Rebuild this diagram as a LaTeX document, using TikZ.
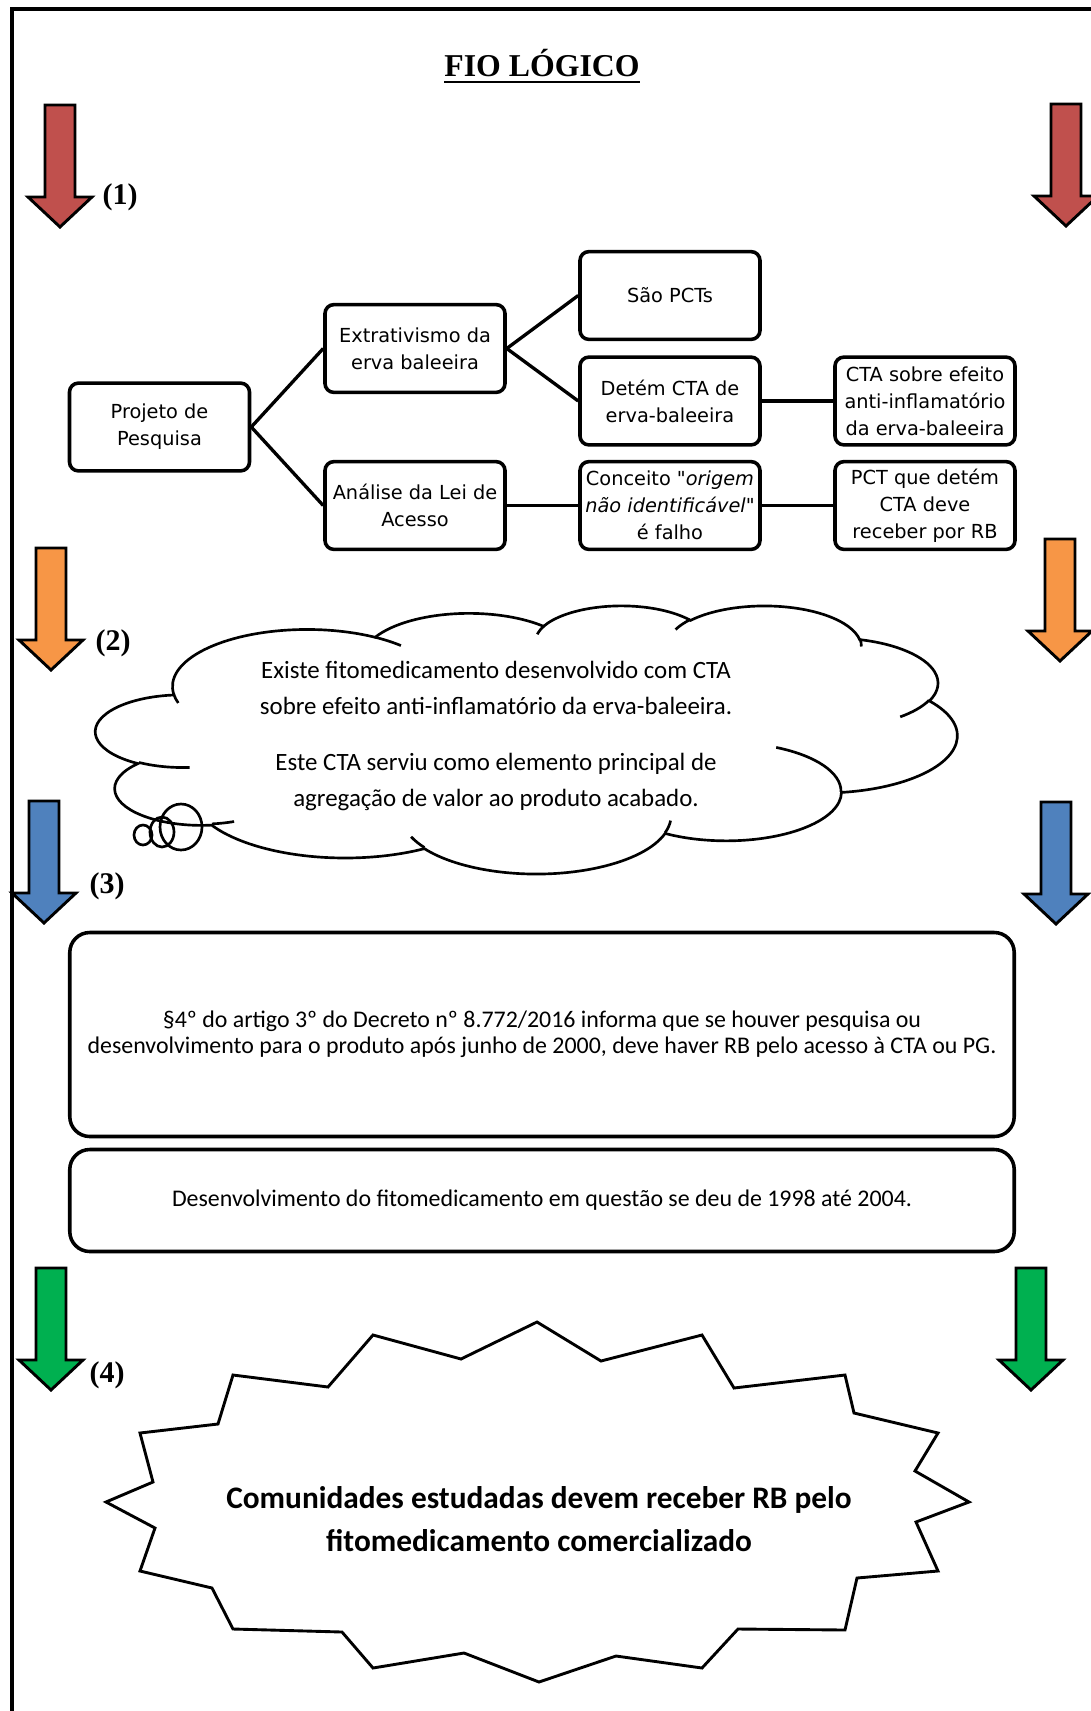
\documentclass[tikz,border=0pt]{standalone}
\usepackage{fontspec}
\setmainfont{Liberation Serif}
\newfontfamily\boxfont{DejaVu Sans}
\newfontfamily\calfont{Carlito}

\definecolor{arrowred}{HTML}{C0504D}
\definecolor{arroworange}{HTML}{F79646}
\definecolor{arrowblue}{HTML}{4F81BD}
\definecolor{arrowgreen}{HTML}{00B050}

\tikzset{
	box/.style={draw, line width=1.6pt, rounded corners=4pt, minimum width=81pt, minimum height=39.5pt, inner sep=1pt, align=center, font=\boxfont\fontsize{8.7}{12.2}\selectfont},
	bigbox/.style={draw, line width=1.6pt, rounded corners=9pt, minimum width=425pt, inner sep=2pt, align=center, font=\calfont\fontsize{10.75}{11.7}\selectfont},
	link/.style={line width=1.5pt},
	arrowline/.style={draw=black, line width=1.3pt, line join=miter},
	cloudline/.style={line width=1.2pt},
	numtag/.style={font=\bfseries\fontsize{13.5}{16}\selectfont, inner sep=0pt}
}

% block arrow pointing down: centre x, top y, colour
\newcommand{\downblock}[3]{%
	\draw[arrowline, fill=#3] (#1-15,#2) -- (#1+15,#2) -- (#1+15,#2+92) -- (#1+32,#2+92)
		-- (#1,#2+122) -- (#1-32,#2+92) -- (#1-15,#2+92) -- cycle;}

\begin{document}
\begin{tikzpicture}[x=0.45pt, y=-0.45pt]
			\useasboundingbox (0,0) rectangle (1091,1711);
			% Page frame
			\draw[line width=1.5pt] (12,1711) -- (12,9) -- (1091,9);
			
			% Title
			\node[inner sep=0pt, anchor=base, font=\bfseries\fontsize{14.3}{17}\selectfont] (title) at (542,76) {FIO LÓGICO};
			\draw[line width=0.9pt] ([yshift=-2.7pt]title.base west) -- ([yshift=-2.7pt]title.base east);
			
			% Arrows on both sides, one pair per step
			\downblock{60}{105}{arrowred}
			\downblock{1066}{104}{arrowred}
			\downblock{51}{548}{arroworange}
			\downblock{1060}{539}{arroworange}
			\downblock{44}{801}{arrowblue}
			\downblock{1056}{802}{arrowblue}
			\downblock{51}{1268}{arrowgreen}
			\downblock{1031}{1268}{arrowgreen}
			
			% Step numbers
			\node[numtag] (t1) at (120,197) {(1)};
			\node[numtag] (t2) at (113,643) {(2)};
			\node[numtag] (t3) at (107,886) {(3)};
			\node[numtag] (t4) at (107,1375) {(4)};
			
			% Define boxes
			\node[box] (PP) at (159.5,427) {Projeto de\\Pesquisa};
			\node[box] (EX) at (415,348.5) {Extrativismo da\\erva baleeira};
			\node[box] (AL) at (415,505.5) {Análise da Lei de\\Acesso};
			\node[box] (SP) at (670,295.5) {São PCTs};
			\node[box] (DC) at (670,401) {Detém CTA de\\erva-baleeira};
			\node[box] (CO) at (670,505.5) {Conceito "\textit{origem}\\\textit{não identificável}"\\é falho};
			\node[box] (CS) at (925,401) {CTA sobre efeito\\anti-inflamatório\\da erva-baleeira};
			\node[box] (PR) at (925,505.5) {PCT que detém\\CTA deve\\receber por RB};
			
			% Lines between boxes
			\draw[link] (PP.east) -- (EX.west);
			\draw[link] (PP.east) -- (AL.west);
			\draw[link] (EX.east) -- (SP.west);
			\draw[link] (EX.east) -- (DC.west);
			\draw[link] (DC) -- (CS);
			\draw[link] (AL) -- (CO);
			\draw[link] (CO) -- (PR);
			
			% Thought cloud
			\begin{scope}[shift={(96,605)}, x=0.8969pt, y=-0.2792pt]
				\draw[cloudline, fill=white] (39.00,143.70)
					arc[start angle=172.26, delta angle=128.11, x radius=67.53, y radius=91.90]
					arc[start angle=-152.02, delta angle=106.56, x radius=53.33, y radius=72.67]
					arc[start angle=-153.49, delta angle=116.15, x radius=43.65, y radius=59.45]
					arc[start angle=-139.70, delta angle=129.49, x radius=48.57, y radius=65.95]
					arc[start angle=-74.77, delta angle=97.99, x radius=53.33, y radius=72.73]
					arc[start angle=-37.53, delta angle=119.40, x radius=67.75, y radius=92.20]
					arc[start angle=0.46, delta angle=121.52, x radius=57.85, y radius=78.67]
					arc[start angle=16.85, delta angle=129.38, x radius=67.52, y radius=92.15]
					arc[start angle=58.98, delta angle=91.19, x radius=77.20, y radius=105.43]
					arc[start angle=83.30, delta angle=139.80, x radius=43.60, y radius=59.18]
					arc[start angle=120.35, delta angle=143.76, x radius=43.45, y radius=59.45]
					-- cycle;
				% inner folds of the cloud
				\draw[cloudline] (46.93,261.77) arc[start angle=85.55, delta angle=34.80, x radius=43.45, y radius=59.45]
					(69.28,348.99) arc[start angle=68.23, delta angle=15.07, x radius=43.60, y radius=59.18]
					(164.78,390.90) arc[start angle=146.23, delta angle=12.25, x radius=67.52, y radius=92.15]
					(288.27,347.51) arc[start angle=4.74, delta angle=12.11, x radius=67.52, y radius=92.15]
					(341.29,229.54) arc[start angle=-64.02, delta angle=64.48, x radius=57.85, y radius=78.67]
					(417.98,153.54) arc[start angle=23.22, delta angle=26.44, x radius=53.33, y radius=72.73]
					(383.24,54.26) arc[start angle=-10.21, delta angle=11.03, x radius=48.57, y radius=65.95]
					(290.78,39.52) arc[start angle=-156.29, delta angle=16.59, x radius=48.57, y radius=65.95]
					(221.41,47.20) arc[start angle=-167.73, delta angle=14.24, x radius=43.65, y radius=59.45]
					(140.00,51.92) arc[start angle=-59.63, delta angle=13.89, x radius=67.53, y radius=91.90]
					(41.27,157.89) arc[start angle=163.20, delta angle=9.06, x radius=67.53, y radius=91.90];
			\end{scope}
			% bubbles of the cloud
			\draw[cloudline] (181,827) ellipse[x radius=21, y radius=23];
			\draw[cloudline] (162,832) ellipse[x radius=12, y radius=15];
			\draw[cloudline] (143,835) ellipse[x radius=9, y radius=10];
			\node[align=center, font=\calfont\fontsize{11.2}{16.2}\selectfont] (CT) at (496,736)
				{Existe fitomedicamento desenvolvido com CTA\\sobre efeito anti-inflamatório da erva-baleeira.\\[9pt]Este CTA serviu como elemento principal de\\agregação de valor ao produto acabado.};
			
			% Legal boxes
			\node[bigbox, minimum height=91.8pt] (DE) at (542,1034.5)
				{§4º do artigo 3º do Decreto nº 8.772/2016 informa que se houver pesquisa ou\\desenvolvimento para o produto após junho de 2000, deve haver RB pelo acesso à CTA ou PG.};
			\node[bigbox, minimum height=45.9pt] (DV) at (542,1200.5)
				{Desenvolvimento do fitomedicamento em questão se deu de 1998 até 2004.};
			
			% Explosion with the conclusion
			\draw[line width=1.3pt, line join=miter, fill=white] (373,1335) -- (461,1359) -- (537,1322) -- (601,1361)
				-- (702,1335) -- (734,1388) -- (845,1375) -- (854,1413) -- (938,1433) -- (915,1471)
				-- (969,1502) -- (916,1522) -- (938,1571) -- (857,1578) -- (845,1630) -- (738,1629)
				-- (702,1668) -- (616,1656) -- (539,1682) -- (464,1653) -- (373,1668) -- (342,1632)
				-- (233,1629) -- (212,1588) -- (140,1571) -- (155,1528) -- (106,1502) -- (153,1482)
				-- (140,1433) -- (218,1424) -- (233,1375) -- (328,1387) -- cycle;
			\node[align=center, font=\calfont\bfseries\fontsize{14.1}{19}\selectfont] (CR) at (539,1519)
				{Comunidades estudadas devem receber RB pelo\\fitomedicamento comercializado};
		\end{tikzpicture}
\end{document}
